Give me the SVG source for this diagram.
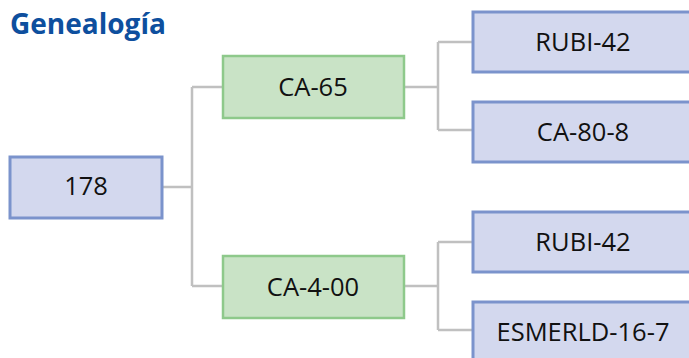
<svg xmlns="http://www.w3.org/2000/svg" width="689" height="358" viewBox="0 0 689 358">
<style>
.blue{fill:#d3d8ee;stroke:#7b93cc;stroke-width:3}
.green{fill:#c9e3c6;stroke:#8ec98b;stroke-width:2.5}
.lbl{font-family:"Open Sans","Liberation Sans",sans-serif;font-size:25.5px;fill:#111;text-anchor:middle}
.conn{fill:none;stroke:#c0c0c0;stroke-width:2.5}
</style>
<rect width="689" height="358" fill="#fff"/>
<text x="10" y="34" font-family="'Open Sans','Liberation Sans',sans-serif" font-weight="bold" font-size="28" fill="#0e4f9e">Genealogía</text>
<g id="connectors" class="conn">
<path d="M163 187H192M192 87V286M192 87H222M192 286H222"/>
<path d="M404 87H438M438 42V130M438 42H472M438 130H472"/>
<path d="M404 286H438M438 242V330M438 242H472M438 330H472"/>
</g>
<g id="n178"><rect class="blue" x="10" y="157" width="152" height="61"/><text class="lbl" x="86" y="195">178</text></g>
<g id="nCA65"><rect class="green" x="223" y="56" width="181" height="62"/><text class="lbl" x="313" y="96">CA-65</text></g>
<g id="nCA400"><rect class="green" x="223" y="256" width="181" height="62"/><text class="lbl" x="313" y="296">CA-4-00</text></g>
<g id="nRUBI1"><rect class="blue" x="473" y="12" width="222" height="60"/><text class="lbl" x="583" y="51">RUBI-42</text></g>
<g id="nCA808"><rect class="blue" x="473" y="102" width="222" height="60"/><text class="lbl" x="583" y="141">CA-80-8</text></g>
<g id="nRUBI2"><rect class="blue" x="473" y="212" width="222" height="60"/><text class="lbl" x="583" y="251">RUBI-42</text></g>
<g id="nESM"><rect class="blue" x="473" y="302" width="222" height="60"/><text class="lbl" x="583" y="341">ESMERLD-16-7</text></g>
</svg>
